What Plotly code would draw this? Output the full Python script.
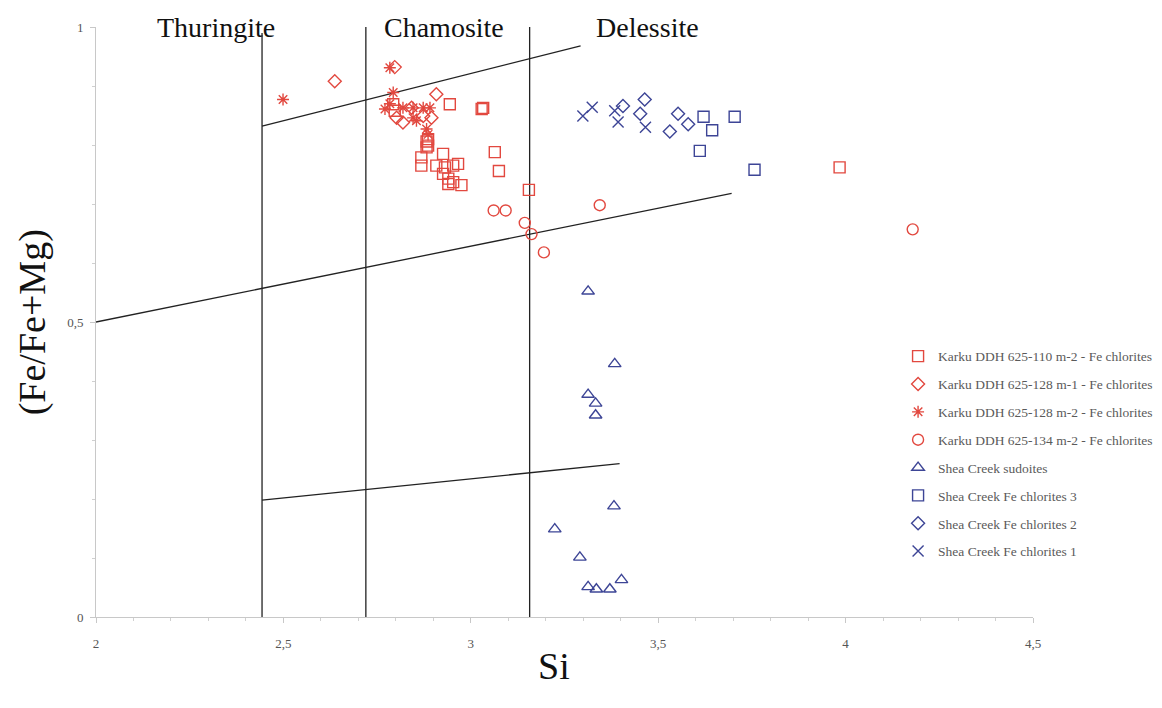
import plotly.graph_objects as go

# ---------------- data ----------------
karku_110_x = [2.944, 3.029, 3.033, 2.793, 2.797, 2.882, 2.886, 2.886, 2.882, 2.868, 2.868, 2.926,
               2.908, 2.931, 2.953, 2.966, 2.926, 2.940, 2.953, 2.975, 2.940, 3.064, 3.075, 3.155, 3.984]
karku_110_y = [0.869, 0.861, 0.863, 0.869, 0.858, 0.806, 0.810, 0.799, 0.796, 0.779, 0.765, 0.785,
               0.765, 0.762, 0.765, 0.768, 0.751, 0.743, 0.737, 0.732, 0.734, 0.788, 0.756, 0.724, 0.762]

karku_128m1_x = [2.637, 2.797, 2.908, 2.802, 2.819, 2.842, 2.873, 2.895]
karku_128m1_y = [0.908, 0.932, 0.886, 0.846, 0.838, 0.863, 0.849, 0.846]

karku_128m2_x = [2.499, 2.784, 2.793, 2.771, 2.784, 2.819, 2.846, 2.873, 2.891, 2.846, 2.855, 2.886, 2.882]
karku_128m2_y = [0.877, 0.931, 0.889, 0.861, 0.870, 0.863, 0.863, 0.863, 0.863, 0.846, 0.841, 0.818, 0.827]

karku_134_x = [3.061, 3.093, 3.144, 3.162, 3.195, 3.344, 4.179]
karku_134_y = [0.689, 0.689, 0.668, 0.649, 0.618, 0.698, 0.657]

sudoite_x = [3.313, 3.384, 3.313, 3.333, 3.333, 3.382, 3.224, 3.291, 3.313, 3.335, 3.371, 3.402]
sudoite_y = [0.552, 0.429, 0.377, 0.362, 0.342, 0.188, 0.149, 0.101, 0.051, 0.047, 0.047, 0.063]

shea3_x = [3.621, 3.644, 3.704, 3.611, 3.757]
shea3_y = [0.848, 0.825, 0.848, 0.790, 0.758]

shea2_x = [3.406, 3.464, 3.452, 3.553, 3.580, 3.531]
shea2_y = [0.866, 0.877, 0.853, 0.853, 0.835, 0.823]

shea1_x = [3.299, 3.324, 3.384, 3.393, 3.466]
shea1_y = [0.849, 0.864, 0.858, 0.839, 0.830]

# field boundaries (Si, Fe/(Fe+Mg))
boundary_v1_x = [2.443, 2.443]
boundary_v1_y = [0.0, 0.99]
boundary_v2_x = [2.72, 2.72]
boundary_v2_y = [0.0, 1.0]
boundary_v3_x = [3.157, 3.157]
boundary_v3_y = [0.0, 1.0]
boundary_s1_x = [2.443, 3.293]
boundary_s1_y = [0.832, 0.968]
boundary_s2_x = [2.0, 3.696]
boundary_s2_y = [0.5, 0.718]
boundary_s3_x = [2.443, 3.397]
boundary_s3_y = [0.198, 0.260]

field_names = ["Thuringite", "Chamosite", "Delessite"]
field_x = [2.32, 2.928, 3.472]
field_y = [1.0, 1.0, 1.0]

x_tickvals = [2, 2.5, 3, 3.5, 4, 4.5]
y_tickvals = [0, 0.5, 1]

RED = "#e2483f"
BLUE = "#3d4596"
SERIF = "Liberation Serif, Times New Roman, serif"

fig = go.Figure()

for bx, by in [(boundary_v1_x, boundary_v1_y), (boundary_v2_x, boundary_v2_y),
               (boundary_v3_x, boundary_v3_y), (boundary_s1_x, boundary_s1_y),
               (boundary_s2_x, boundary_s2_y), (boundary_s3_x, boundary_s3_y)]:
    fig.add_trace(go.Scatter(x=bx, y=by, mode="lines", line=dict(color="#222222", width=1.3),
                             showlegend=False, hoverinfo="skip", cliponaxis=False))

series = [
    ("Karku DDH 625-110 m-2 - Fe chlorites", karku_110_x, karku_110_y, "square-open", RED, 11),
    ("Karku DDH 625-128 m-1 - Fe chlorites", karku_128m1_x, karku_128m1_y, "diamond-open", RED, 10),
    ("Karku DDH 625-128 m-2 - Fe chlorites", karku_128m2_x, karku_128m2_y, "asterisk-open", RED, 10),
    ("Karku DDH 625-134 m-2 - Fe chlorites", karku_134_x, karku_134_y, "circle-open", RED, 11),
    ("Shea Creek sudoites", sudoite_x, sudoite_y, "triangle-up-open", BLUE, 11),
    ("Shea Creek Fe chlorites 3", shea3_x, shea3_y, "square-open", BLUE, 11),
    ("Shea Creek Fe chlorites 2", shea2_x, shea2_y, "diamond-open", BLUE, 10),
    ("Shea Creek Fe chlorites 1", shea1_x, shea1_y, "x-thin-open", BLUE, 11),
]
for i, (name, sx, sy, sym, col, sz) in enumerate(series):
    fig.add_trace(go.Scatter(
        x=sx, y=sy, mode="markers", name=name, legendgroup=f"g{i}",
        marker=dict(symbol=sym, size=sz, color=col, line=dict(color=col, width=1.4)),
    ))

for name, fx, fy in zip(field_names, field_x, field_y):
    fig.add_annotation(x=fx, y=fy, text=name, showarrow=False, xanchor="center", yanchor="middle",
                       font=dict(family=SERIF, size=28, color="#111111"))

fig.add_annotation(x=-0.068, y=0.5, xref="paper", yref="paper", text="(Fe/Fe+Mg)", textangle=-90,
                   showarrow=False, xanchor="center", yanchor="middle",
                   font=dict(family=SERIF, size=38, color="#111111"))
fig.add_annotation(x=0.489, y=-0.083, xref="paper", yref="paper", text="Si",
                   showarrow=False, xanchor="center", yanchor="middle",
                   font=dict(family=SERIF, size=38, color="#111111"))

fig.update_layout(
    width=1162, height=708,
    margin=dict(l=88, r=135, t=14, b=99),
    paper_bgcolor="white", plot_bgcolor="white",
    separators=",.",
    showlegend=True,
    legend=dict(x=0.856, y=0.468, xanchor="left", yanchor="top", xref="paper", yref="paper",
                font=dict(family=SERIF, size=13.5, color="#5a5a5a"),
                tracegroupgap=7.3, itemwidth=30, bgcolor="rgba(0,0,0,0)"),
    font=dict(family=SERIF),
)
fig.update_xaxes(range=[2, 4.5], tickvals=x_tickvals, showgrid=False, zeroline=False,
                 showline=True, linecolor="#c8c8c8", linewidth=1,
                 ticks="outside", ticklen=5, tickcolor="#c8c8c8",
                 minor=dict(dtick=0.1, ticks="outside", ticklen=3, tickcolor="#d0d0d0"),
                 tickfont=dict(family=SERIF, size=13, color="#555555"), ticklabelstandoff=9)
fig.update_yaxes(range=[0, 1], tickvals=y_tickvals, showgrid=False, zeroline=False,
                 showline=True, linecolor="#c8c8c8", linewidth=1,
                 ticks="outside", ticklen=5, tickcolor="#c8c8c8",
                 minor=dict(dtick=0.1, ticks="outside", ticklen=3, tickcolor="#d0d0d0"),
                 tickfont=dict(family=SERIF, size=13, color="#555555"), ticklabelstandoff=4)

fig.write_html("out.html")
